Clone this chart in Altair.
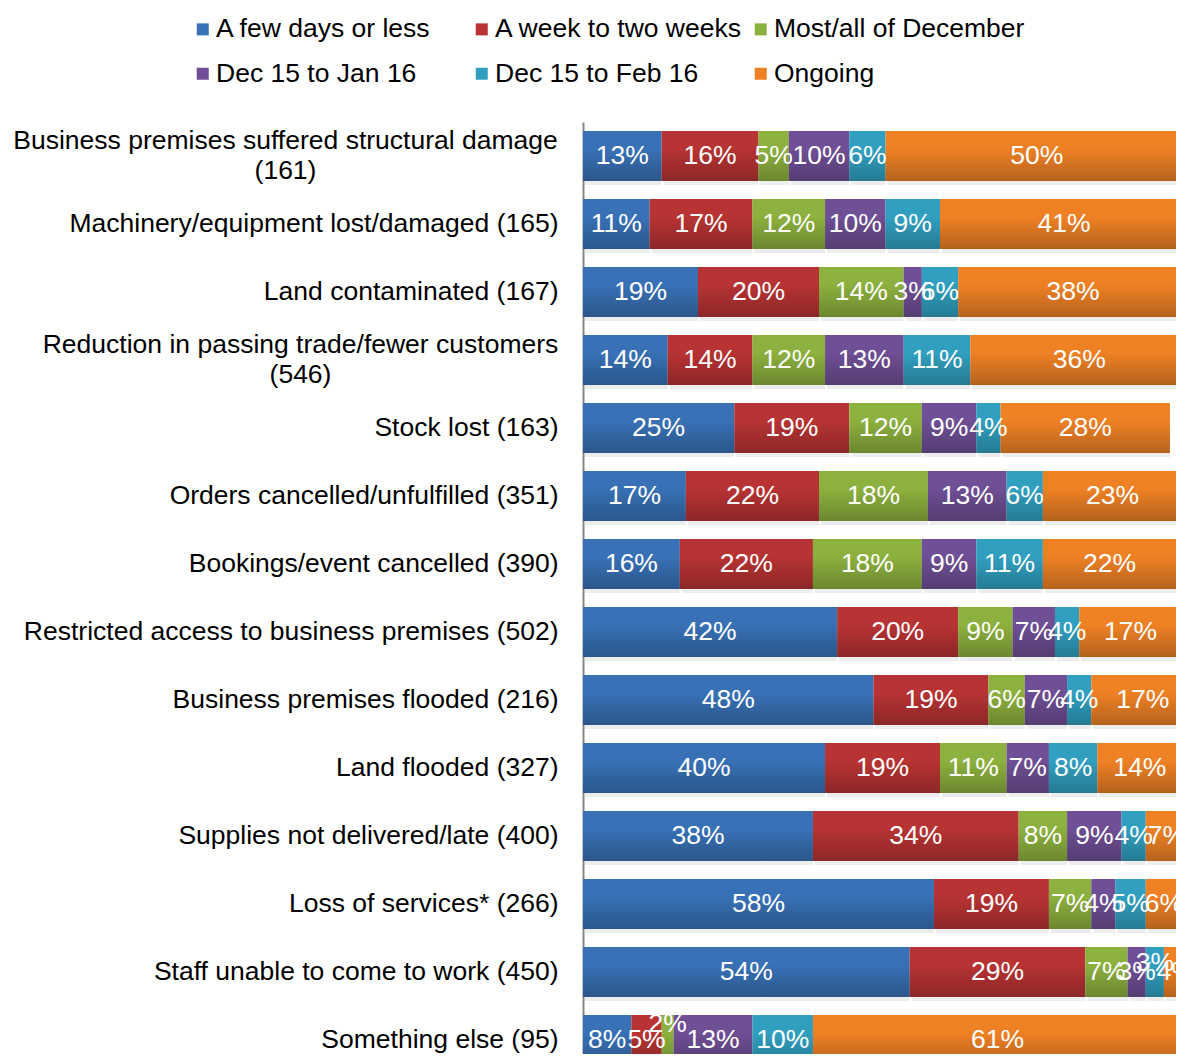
import altair as alt
import pandas as pd

categories = [
    "Business premises suffered structural damage (161)",
    "Machinery/equipment lost/damaged (165)",
    "Land contaminated (167)",
    "Reduction in passing trade/fewer customers (546)",
    "Stock lost (163)",
    "Orders cancelled/unfulfilled (351)",
    "Bookings/event cancelled (390)",
    "Restricted access to business premises (502)",
    "Business premises flooded (216)",
    "Land flooded (327)",
    "Supplies not delivered/late (400)",
    "Loss of services* (266)",
    "Staff unable to come to work (450)",
    "Something else (95)",
]
series = ["A few days or less", "A week to two weeks", "Most/all of December",
          "Dec 15 to Jan 16", "Dec 15 to Feb 16", "Ongoing"]
colors = ["#3871B6", "#B83333", "#8DB13E", "#6F4F95", "#31A0C0", "#EF8125"]

few_days = [13, 11, 19, 14, 25, 17, 16, 42, 48, 40, 38, 58, 54, 8]
week_two = [16, 17, 20, 14, 19, 22, 22, 20, 19, 19, 34, 19, 29, 5]
december = [5, 12, 14, 12, 12, 18, 18, 9, 6, 11, 8, 7, 7, 2]
jan16 = [10, 10, 3, 13, 9, 13, 9, 7, 7, 7, 9, 4, 3, 13]
feb16 = [6, 9, 6, 11, 4, 6, 11, 4, 4, 8, 4, 5, 3, 10]
ongoing = [50, 41, 38, 36, 28, 23, 22, 17, 17, 14, 7, 6, 4, 61]

values = [few_days, week_two, december, jan16, feb16, ongoing]
rows = []
for i, cat in enumerate(categories):
    for j, s in enumerate(series):
        rows.append({"cat": cat, "series": s, "order": j, "value": values[j][i]})
df = pd.DataFrame(rows)

FONT = "Liberation Sans"
FS = 26.5

base = alt.Chart(df).transform_window(
    cum="sum(value)", groupby=["cat"], sort=[alt.SortField("order")], frame=[None, 0]
).transform_calculate(
    start="datum.cum - datum.value",
    mid="datum.cum - datum.value / 2",
    label="datum.value + '%'",
)

long_test = "length(datum.value) > 45"
y_axis = alt.Axis(
    title=None,
    ticks=False,
    tickSize=0,
    domainColor="#878787",
    domainWidth=2,
    labelFont=FONT,
    labelFontSize=FS,
    labelColor="#000000",
    labelLimit=700,
    labelLineHeight=30,
    labelBaseline="middle",
    labelExpr="length(datum.label) > 45 ? [substring(datum.label, 0, indexof(datum.label, ' (')), substring(datum.label, indexof(datum.label, ' (') + 1)] : datum.label",
    labelAlign={"condition": {"test": long_test, "value": "center"}, "value": "right"},
    labelOffset={"condition": {"test": long_test, "value": -15}, "value": 0},
    labelPadding={
        "condition": [
            {"test": "datum.value == '" + categories[0] + "'", "value": 298},
            {"test": "datum.value == '" + categories[3] + "'", "value": 283},
        ],
        "value": 25,
    },
)

y = alt.Y(
    "cat:N",
    sort=categories,
    scale=alt.Scale(domain=categories, range=[0, 952], paddingInner=0.2647, paddingOuter=0.1324),
    axis=y_axis,
)
xscale = alt.Scale(domain=[0, 98.0], nice=False, zero=True)

shadow = base.mark_bar(color="#000000", opacity=0.07, yOffset=4, xOffset=2, clip=True).encode(
    y=y, x=alt.X("start:Q", scale=xscale, axis=None), x2="cum:Q"
)

bars = base.mark_bar(clip=True).encode(
    y=y,
    x=alt.X("start:Q", scale=xscale, axis=None),
    x2="cum:Q",
    color=alt.Color(
        "series:N",
        scale=alt.Scale(domain=series, range=colors),
        legend=alt.Legend(
            title=None,
            orient="none",
            legendX=-393.5,
            legendY=-106,
            direction="horizontal",
            columns=3,
            gridAlign="all",
            symbolType="square",
            symbolSize=144,
            symbolStrokeWidth=0,
            labelFont=FONT,
            labelFontSize=FS,
            labelColor="#000000",
            labelLimit=500,
            labelOffset=0,
            columnPadding=2,
            rowPadding=17.5,
            padding=0,
        ),
    ),
)

shade = base.mark_bar(
    clip=True,
    color=alt.Gradient(
        gradient="linear",
        stops=[
            alt.GradientStop(color="rgba(0,0,0,0)", offset=0),
            alt.GradientStop(color="rgba(0,0,0,0)", offset=0.35),
            alt.GradientStop(color="rgba(0,0,0,0.24)", offset=1),
        ],
        x1=0, x2=0, y1=0, y2=1,
    ),
).encode(y=y, x=alt.X("start:Q", scale=xscale, axis=None), x2="cum:Q")

lift_a = "datum.cat == 'Something else (95)' && datum.series == 'Most/all of December'"
lift_b = "datum.cat == 'Staff unable to come to work (450)' && datum.series == 'Dec 15 to Feb 16'"

text_props = dict(color="white", font=FONT, fontSize=FS, align="center", baseline="middle", clip=True)
labels = base.transform_filter(
    "!(" + lift_a + ") && !(" + lift_b + ")"
).mark_text(**text_props).encode(y=y, x=alt.X("mid:Q", scale=xscale, axis=None), text="label:N")
labels_a = base.transform_filter(lift_a).mark_text(dy=-16, **text_props).encode(
    y=y, x=alt.X("mid:Q", scale=xscale, axis=None), text="label:N"
)
labels_b = base.transform_filter(lift_b).mark_text(dy=-9, **text_props).encode(
    y=y, x=alt.X("mid:Q", scale=xscale, axis=None), text="label:N"
)

chart = alt.layer(shadow, bars, shade, labels, labels_a, labels_b).properties(
    width=593,
    height=932,
    autosize=alt.AutoSizeParams(type="none"),
    padding={"left": 575, "top": 114, "right": 0, "bottom": 0},
).configure_view(stroke=None)

chart.save("out.html", embed_options={"renderer": "svg", "actions": False})
